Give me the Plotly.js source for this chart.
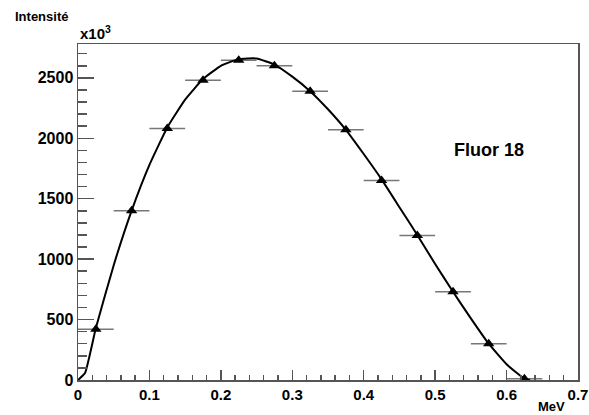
<!DOCTYPE html>
<html>
<head>
<meta charset="utf-8">
<script src="https://cdn.plot.ly/plotly-3.0.1.min.js"></script>
<style>html,body{margin:0;padding:0;background:#fff;}#chart{width:589px;height:415px;}</style>
</head>
<body>
<div id="chart"></div>
<script>
// Measured points (bin centres, MeV) and intensity (x10^3)
const binCenters = [0.025, 0.075, 0.125, 0.175, 0.225, 0.275, 0.325, 0.375, 0.425, 0.475, 0.525, 0.575, 0.625];
const binHalfWidth = [0.025, 0.025, 0.025, 0.025, 0.025, 0.025, 0.025, 0.025, 0.025, 0.025, 0.025, 0.025, 0.025];
const intensity = [420, 1400, 2080, 2480, 2645, 2600, 2390, 2070, 1650, 1195, 730, 300, 10];

// Fitted curve
const curveX = [0, 0.01, 0.025, 0.05, 0.075, 0.1, 0.125, 0.15, 0.175, 0.2, 0.225, 0.25, 0.275, 0.3, 0.325, 0.35, 0.375, 0.4, 0.425, 0.45, 0.475, 0.5, 0.525, 0.55, 0.575, 0.6, 0.625, 0.633];
const curveY = [0, 60, 430, 950, 1400, 1780, 2090, 2320, 2490, 2600, 2655, 2660, 2610, 2510, 2390, 2240, 2070, 1870, 1660, 1430, 1200, 960, 730, 510, 300, 130, 10, 0];

const xTickVals = [0, 0.1, 0.2, 0.3, 0.4, 0.5, 0.6, 0.7];
const xTickText = ['0', '0.1', '0.2', '0.3', '0.4', '0.5', '0.6', '0.7'];
const yTickVals = [0, 500, 1000, 1500, 2000, 2500];
const yTickText = ['0', '500', '1000', '1500', '2000', '2500'];

const FONT = 'Liberation Sans, Arial, Helvetica, sans-serif';
const AX = '#555555';

const traces = [
  {
    x: binCenters, y: intensity, type: 'scatter', mode: 'markers',
    marker: {symbol: 'triangle-up', size: 10, color: '#000'},
    error_x: {type: 'data', array: binHalfWidth, color: '#777', thickness: 1.5, width: 0},
    hoverinfo: 'skip', showlegend: false
  },
  {
    x: curveX, y: curveY, type: 'scatter', mode: 'lines',
    line: {color: '#000', width: 2, shape: 'spline', smoothing: 0.4},
    hoverinfo: 'skip', showlegend: false
  }
];

const layout = {
  width: 589, height: 415,
  margin: {l: 78, r: 11, t: 44, b: 35, pad: 0},
  paper_bgcolor: '#fff', plot_bgcolor: '#fff',
  showlegend: false,
  font: {family: FONT, color: '#000'},
  xaxis: {
    range: [0, 0.7], tickvals: xTickVals, ticktext: xTickText,
    showgrid: false, zeroline: false,
    showline: true, linecolor: AX, linewidth: 1.5, mirror: true,
    ticks: 'inside', ticklen: 10, tickwidth: 1.5, tickcolor: AX,
    minor: {dtick: 0.02, ticks: 'inside', ticklen: 5, tickwidth: 1.5, tickcolor: AX, showgrid: false},
    tickfont: {family: FONT, size: 15, weight: 'bold', color: '#000'}
  },
  yaxis: {
    range: [0, 2780], tickvals: yTickVals, ticktext: yTickText,
    showgrid: false, zeroline: false,
    showline: true, linecolor: AX, linewidth: 1.5, mirror: true,
    ticks: 'inside', ticklen: 16, tickwidth: 1.5, tickcolor: AX,
    minor: {dtick: 100, ticks: 'inside', ticklen: 9, tickwidth: 1.5, tickcolor: AX, showgrid: false},
    tickfont: {family: FONT, size: 16, weight: 'bold', color: '#000'}
  },
  annotations: [
    {text: 'Intensité', xref: 'paper', yref: 'paper', x: -0.13, y: 1.055, xanchor: 'left', yanchor: 'bottom',
     showarrow: false, font: {family: FONT, size: 13, weight: 'bold', color: '#000'}},
    {text: 'x10<sup>3</sup>', xref: 'paper', yref: 'paper', x: 0, y: 1.0, xanchor: 'left', yanchor: 'bottom',
     showarrow: false, font: {family: FONT, size: 15, weight: 'bold', color: '#000'}},
    {text: 'Fluor 18', xref: 'x', yref: 'y', x: 0.575, y: 1900, xanchor: 'center', yanchor: 'middle',
     showarrow: false, font: {family: FONT, size: 18, weight: 'bold', color: '#000'}},
    {text: 'MeV', xref: 'paper', yref: 'paper', x: 0.976, y: -0.104, xanchor: 'right', yanchor: 'bottom',
     showarrow: false, borderpad: 0, font: {family: FONT, size: 13, weight: 'bold', color: '#000'}}
  ]
};

Plotly.newPlot('chart', traces, layout, {staticPlot: true, displayModeBar: false});
</script>
</body>
</html>
